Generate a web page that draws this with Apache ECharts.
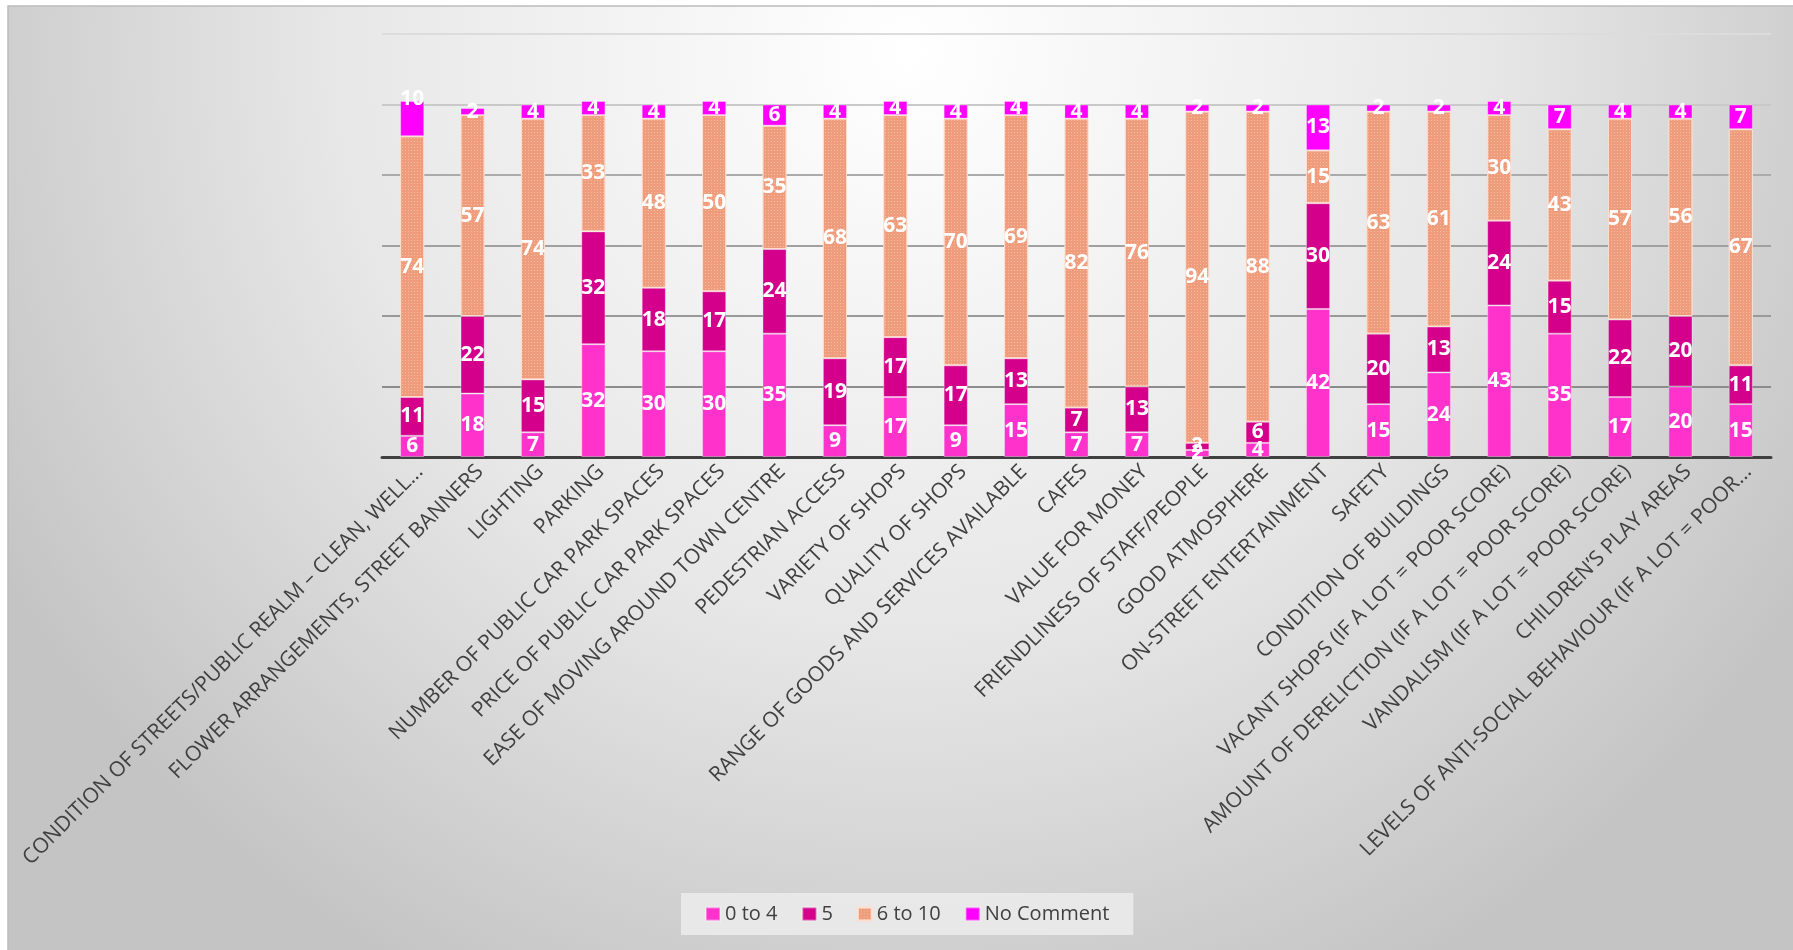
<!DOCTYPE html>
<html>
<head>
<meta charset="utf-8">
<title>Town centre ratings</title>
<script src="https://cdn.jsdelivr.net/npm/echarts@6/dist/echarts.min.js"></script>
<style>
  html, body { margin: 0; padding: 0; background: #ffffff; }
  #chart { width: 1793px; height: 950px; }
</style>
</head>
<body>
<div id="chart"></div>
<script>
// Survey topics (as shown on the axis)
const categories = [
  'CONDITION OF STREETS/PUBLIC REALM \u2013 CLEAN, WELL...',
  'FLOWER ARRANGEMENTS, STREET BANNERS',
  'LIGHTING',
  'PARKING',
  'NUMBER OF PUBLIC CAR PARK SPACES',
  'PRICE OF PUBLIC CAR PARK SPACES',
  'EASE OF MOVING AROUND TOWN CENTRE',
  'PEDESTRIAN ACCESS',
  'VARIETY OF SHOPS',
  'QUALITY OF SHOPS',
  'RANGE OF GOODS AND SERVICES AVAILABLE',
  'CAFES',
  'VALUE FOR MONEY',
  'FRIENDLINESS OF STAFF/PEOPLE',
  'GOOD ATMOSPHERE',
  'ON-STREET ENTERTAINMENT',
  'SAFETY',
  'CONDITION OF BUILDINGS',
  'VACANT SHOPS (IF A LOT = POOR SCORE)',
  'AMOUNT OF DERELICTION (IF A LOT = POOR SCORE)',
  'VANDALISM (IF A LOT = POOR SCORE)',
  'CHILDREN\u2019S PLAY AREAS',
  'LEVELS OF ANTI-SOCIAL BEHAVIOUR (IF A LOT = POOR...'
];

// Number of responses per score band
const score0to4  = [6, 18, 7, 32, 30, 30, 35, 9, 17, 9, 15, 7, 7, 2, 4, 42, 15, 24, 43, 35, 17, 20, 15];
const score5     = [11, 22, 15, 32, 18, 17, 24, 19, 17, 17, 13, 7, 13, 2, 6, 30, 20, 13, 24, 15, 22, 20, 11];
const score6to10 = [74, 57, 74, 33, 48, 50, 35, 68, 63, 70, 69, 82, 76, 94, 88, 15, 63, 61, 30, 43, 57, 56, 67];
const noComment  = [10, 2, 4, 4, 4, 4, 6, 4, 4, 4, 4, 4, 4, 2, 2, 13, 2, 2, 4, 7, 4, 4, 7];

const seriesNames = ['0 to 4', '5', '6 to 10', 'No Comment'];

// Value axis
const yMin = 0, yMax = 120, yStep = 20;

const chart = echarts.init(document.getElementById('chart'), null, { renderer: 'canvas' });

const labelStyle = {
  show: true,
  position: 'inside',
  color: '#ffffff',
  fontFamily: 'Open Sans',
  fontWeight: 700,
  fontSize: 21
};

function makeSeries(name, values, color, extra) {
  return Object.assign({
    name: name,
    type: 'bar',
    stack: 'total',
    barWidth: '40%',
    data: values,
    itemStyle: {
      color: color,
      borderColor: 'rgba(255,255,255,0.35)',
      borderWidth: 1
    },
    label: labelStyle,
    emphasis: { disabled: true }
  }, extra || {});
}

const noCommentData = noComment.map(function (v, i) {
  // the first value's label sits at the top edge of its segment
  return i === 0 ? { value: v, label: { offset: [0, -20] } } : v;
});

const option = {
  animation: false,
  backgroundColor: '#ffffff',
  graphic: [{
    type: 'rect',
    z: -10,
    silent: true,
    shape: { x: 8, y: 6, width: 1800, height: 950 },
    style: {
      fill: {
        type: 'radial', x: 0.5, y: 0.05, r: 1.1,
        colorStops: [
          { offset: 0, color: '#ffffff' },
          { offset: 0.55, color: '#e7e7e7' },
          { offset: 1, color: '#c4c4c4' }
        ]
      },
      stroke: '#bcbcbc',
      lineWidth: 1.5
    }
  }],
  grid: {
    left: 382,
    right: 22,
    top: 34,
    bottom: 493,
    containLabel: false
  },
  legend: {
    data: seriesNames,
    left: 681,
    top: 893,
    padding: [11, 24, 11, 24],
    backgroundColor: 'rgba(236,236,236,0.85)',
    icon: 'rect',
    itemWidth: 14,
    itemHeight: 13,
    itemGap: 24,
    textStyle: {
      fontFamily: 'Open Sans',
      fontSize: 20,
      color: '#404040'
    }
  },
  xAxis: {
    type: 'category',
    data: categories,
    axisLine: { show: true, lineStyle: { color: '#404040', width: 3 } },
    axisTick: { show: false },
    axisLabel: {
      interval: 0,
      rotate: 45,
      margin: 4,
      verticalAlign: 'top',
      fontFamily: 'Open Sans',
      fontSize: 21,
      color: '#404040'
    }
  },
  yAxis: {
    type: 'value',
    min: yMin,
    max: yMax,
    interval: yStep,
    axisLine: { show: false },
    axisTick: { show: false },
    axisLabel: { show: false },
    splitLine: {
      show: true,
      lineStyle: {
        width: 2,
        color: ['#8c8c8c', '#8c8c8c', '#999999', '#a0a0a0', '#ababab', '#c9c9c9', '#dcdcdc']
      }
    }
  },
  series: [
    makeSeries(seriesNames[0], score0to4, '#FF33CC'),
    makeSeries(seriesNames[1], score5, '#D4008C'),
    makeSeries(seriesNames[2], score6to10, '#EE9C7B', {
      itemStyle: {
        color: '#EE9C7B',
        borderColor: 'rgba(255,225,210,0.7)',
        borderWidth: 1,
        decal: {
          symbol: 'rect',
          symbolSize: 1,
          color: 'rgba(255,215,195,0.55)',
          dashArrayX: [1, 2],
          dashArrayY: [1, 2]
        }
      }
    }),
    makeSeries(seriesNames[3], noCommentData, '#FF00FF')
  ]
};

chart.setOption(option);
</script>
</body>
</html>
